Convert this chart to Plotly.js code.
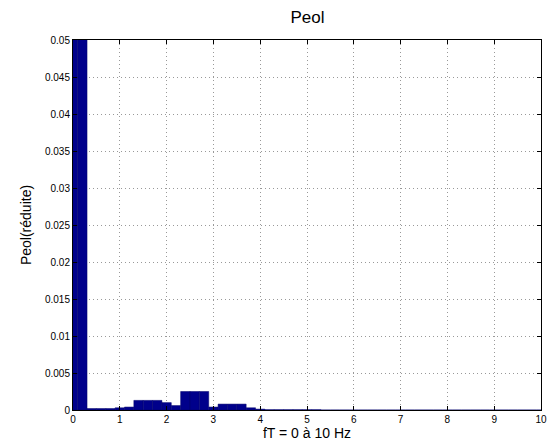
<!DOCTYPE html>
<html>
<head>
<meta charset="utf-8">
<script src="https://cdn.plot.ly/plotly-3.0.1.min.js"></script>
<style>html,body{margin:0;padding:0;background:#fff;}#chart{width:549px;height:444px;}</style>
</head>
<body>
<div id="chart"></div>
<script>
// Frequencies (Hz)
const freqs = [0.0,0.2,0.4,0.6,0.8,1.0,1.2,1.4,1.6,1.8,2.0,2.2,2.4,2.6,2.8,3.0,3.2,3.4,3.6,3.8,4.0,
  4.2,4.4,4.6,4.8,5.0,5.2,5.4,5.6,5.8,6.0,6.2,6.4,6.6,6.8,7.0,7.2,7.4,7.6,7.8,8.0,
  8.2,8.4,8.6,8.8,9.0,9.2,9.4,9.6,9.8,10.0];
// Reduced Peol values
const peol = [0.2,0.08,0.0002,0.0002,0.0002,0.0003,0.0004,0.0013,0.0013,0.0013,0.001,0.0006,0.0025,0.0025,0.0025,0.0004,0.0008,0.0008,0.0008,0.0003,0.00012,
  0.00004,0.00004,0.00004,0.00004,0.00004,0.00004,0,0,0,0,0,0,0,0,0,0,0,0,0,0,
  0,0,0,0,0,0,0,0,0,0];
const xTicks = [0,1,2,3,4,5,6,7,8,9,10];
const yTicks = [0,0.005,0.01,0.015,0.02,0.025,0.03,0.035,0.04,0.045,0.05];
const yTickText = ['0','0.005','0.01','0.015','0.02','0.025','0.03','0.035','0.04','0.045','0.05'];

const trace = {
  type: 'bar',
  x: freqs,
  y: peol,
  width: 0.2,
  marker: {color: '#00008b', line: {color: '#00006a', width: 0.5}},
  hoverinfo: 'x+y'
};

const fam = 'Liberation Sans, Arial, sans-serif';
const axisFont = {family: fam, size: 10, color: '#000'};
const layout = {
  width: 549, height: 444,
  margin: {l: 73, r: 8, t: 40, b: 34},
  paper_bgcolor: '#fff', plot_bgcolor: '#fff',
  showlegend: false,
  bargap: 0,
  title: {text: 'Peol', font: {family: fam, size: 17, color: '#000'}, x: 0.56, xanchor: 'center', y: 0.962, yanchor: 'middle'},
  xaxis: {
    range: [0, 10], tickvals: xTicks, ticktext: xTicks.map(String),
    ticks: 'inside', ticklen: 4, tickcolor: '#000',
    showline: true, linecolor: '#000', linewidth: 1, mirror: 'ticks',
    showgrid: true, gridcolor: '#999', griddash: '1px,3px', gridwidth: 1,
    zeroline: false, tickfont: axisFont,
    title: {text: 'fT = 0 à 10 Hz', font: {family: fam, size: 14, color: '#000'}, standoff: 1}
  },
  yaxis: {
    range: [0, 0.05], tickvals: yTicks, ticktext: yTickText,
    ticks: 'inside', ticklen: 4, tickcolor: '#000',
    showline: true, linecolor: '#000', linewidth: 1, mirror: 'ticks',
    showgrid: true, gridcolor: '#999', griddash: '1px,3px', gridwidth: 1,
    zeroline: false, tickfont: axisFont,
    title: {text: 'Peol(réduite)', font: {family: fam, size: 14, color: '#000'}, standoff: 10}
  }
};

Plotly.newPlot('chart', [trace], layout, {staticPlot: true, displayModeBar: false});
</script>
</body>
</html>
